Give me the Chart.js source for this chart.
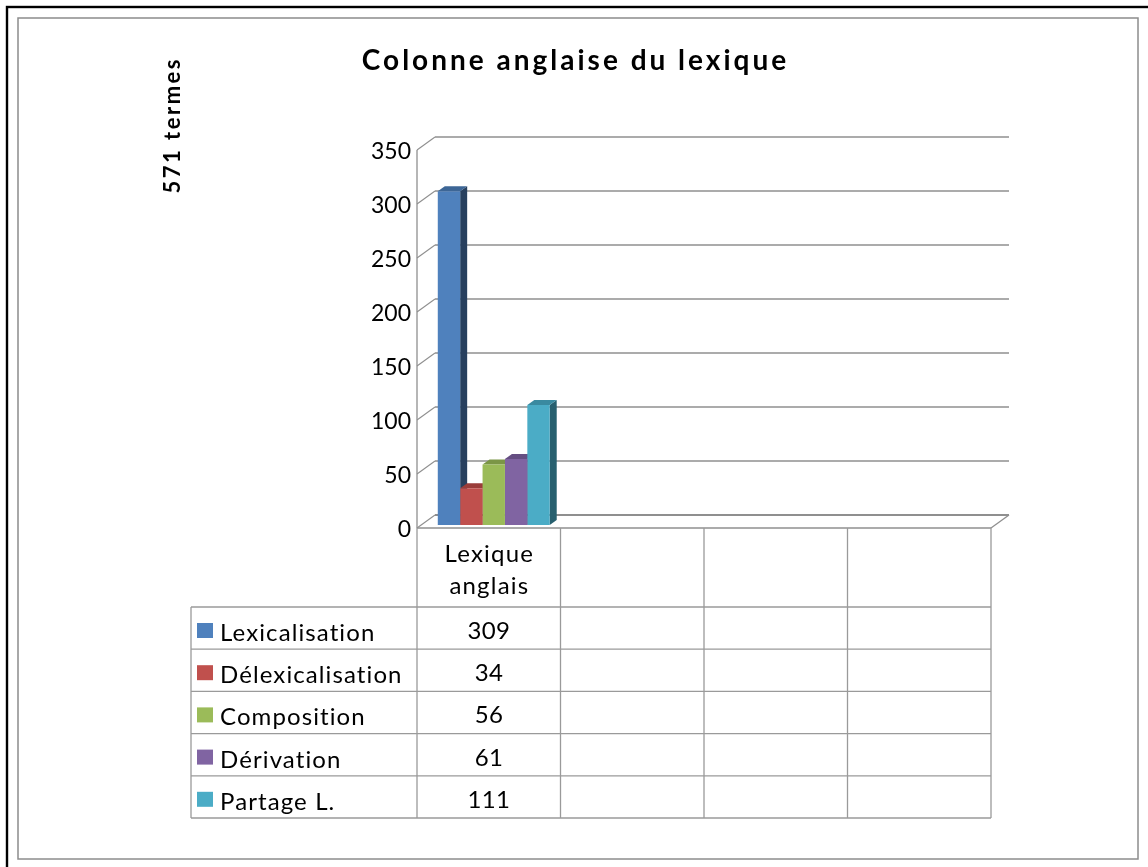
<!DOCTYPE html>
<html><head><meta charset="utf-8">
<script src="https://cdn.jsdelivr.net/npm/chart.js@4"></script>
<style>html,body{margin:0;padding:0;background:#fff}canvas{display:block}</style>
</head><body>
<canvas id="c" width="1148" height="867"></canvas>
<script>
// ---- data ----
const categories = ['Lexique anglais', '', '', ''];
const seriesNames = ['Lexicalisation', 'Délexicalisation', 'Composition', 'Dérivation', 'Partage L.'];
const lexicalisation = [309, null, null, null];
const delexicalisation = [34, null, null, null];
const composition = [56, null, null, null];
const derivation = [61, null, null, null];
const partage = [111, null, null, null];
const yTicks = [0, 50, 100, 150, 200, 250, 300, 350];
const chartTitle = 'Colonne anglaise du lexique';
const sideTitle = '571 termes';

// ---- styles ----
const frontColors = ['#4F81BD', '#C0504D', '#9BBB59', '#8064A2', '#4BACC6'];
const topColors   = ['#3D6696', '#9A3D3A', '#7B9646', '#654E82', '#3A8AA0'];
const sideColors  = ['#28405E', '#6A2A28', '#556830', '#45365A', '#28606F'];
const FONT = 'Lato, "Open Sans", "DejaVu Sans", sans-serif';
const GRID = '#8f8f8f';

const series = [lexicalisation, delexicalisation, composition, derivation, partage];

// plane offsets relative to the bar plane
const BX = 13, BY = -10;   // back wall
const FX = -5, FY = 3;     // front edge
const DX = 7, DY = -5;     // bar depth

function line(ctx, x1, y1, x2, y2) { ctx.beginPath(); ctx.moveTo(x1, y1); ctx.lineTo(x2, y2); ctx.stroke(); }
function poly(ctx, pts, col) {
  ctx.beginPath(); ctx.moveTo(pts[0][0], pts[0][1]);
  for (let k = 1; k < pts.length; k++) ctx.lineTo(pts[k][0], pts[k][1]);
  ctx.closePath(); ctx.fillStyle = col; ctx.fill();
}
function spacedText(ctx, txt, x, y, spacing, align) {
  ctx.letterSpacing = spacing + 'px';
  const w = ctx.measureText(txt).width - spacing;
  let sx = x;
  if (align === 'center') sx = x - w / 2;
  else if (align === 'right') sx = x - w;
  ctx.textAlign = 'left';
  ctx.fillText(txt, sx, y);
  ctx.letterSpacing = '0px';
}

const threeD = {
  id: 'threeD',
  beforeDatasetsDraw(chart) {
    const { ctx, chartArea: a, scales: { x, y } } = chart;
    ctx.save();
    ctx.strokeStyle = GRID; ctx.lineWidth = 1.3;
    yTicks.forEach(v => {
      const py = y.getPixelForValue(v);
      ctx.lineWidth = v === 0 ? 2.2 : 1.3;
      line(ctx, a.left + BX, py + BY, a.right + BX, py + BY);
      ctx.lineWidth = 1.1;
      line(ctx, a.left + FX, py + FY, a.left + BX, py + BY);
    });
    ctx.lineWidth = 1.3;
    const yTop = y.getPixelForValue(yTicks[yTicks.length - 1]);
    const y0 = y.getPixelForValue(0);
    line(ctx, a.left + FX, yTop + FY, a.left + FX, y0 + FY);
    line(ctx, a.left + FX, y0 + FY, a.right + FX, y0 + FY);
    line(ctx, a.right + FX, y0 + FY, a.right + BX, y0 + BY);
    // bar top and side faces
    chart.data.datasets.forEach((ds, i) => {
      const meta = chart.getDatasetMeta(i);
      meta.data.forEach((bar, j) => {
        if (ds.data[j] == null) return;
        const p = bar.getProps(['x', 'y', 'base', 'width'], true);
        const l = p.x - p.width / 2, r = p.x + p.width / 2;
        poly(ctx, [[r, p.y], [r + DX, p.y + DY], [r + DX, p.base + DY], [r, p.base]], sideColors[i]);
        poly(ctx, [[l, p.y], [l + DX, p.y + DY], [r + DX, p.y + DY], [r, p.y]], topColors[i]);
      });
    });
    ctx.restore();
  },
  afterDraw(chart) {
    const { ctx, chartArea: a, scales: { x, y } } = chart;
    ctx.save();
    // frames
    ctx.strokeStyle = '#000'; ctx.lineWidth = 2.4;
    ctx.strokeRect(7, 7, 1160, 880);
    ctx.strokeStyle = '#8c8c8c'; ctx.lineWidth = 1.5;
    ctx.strokeRect(18, 18, 1120, 841);

    // title
    ctx.fillStyle = '#000';
    ctx.textBaseline = 'alphabetic';
    ctx.font = 'bold 28px ' + FONT;
    spacedText(ctx, chartTitle, 574, 70, 3, 'center');

    // side title
    ctx.save();
    ctx.translate(180, 126.5);
    ctx.rotate(-Math.PI / 2);
    ctx.font = 'bold 22px ' + FONT;
    spacedText(ctx, sideTitle, 0, 0, 2.5, 'center');
    ctx.restore();

    // data table
    const half = (x.getPixelForValue(1) - x.getPixelForValue(0)) / 2;
    const colL = i => x.getPixelForValue(i) - half + FX;
    const colC = i => x.getPixelForValue(i) + FX;
    const y0 = y.getPixelForValue(0) + FY;
    const headH = 79, rowH = 42.2, labelLeft = 191;
    const rowsTop = y0 + headH;
    const bottom = rowsTop + rowH * series.length;
    ctx.strokeStyle = '#9a9a9a'; ctx.lineWidth = 1.3;
    for (let i = 0; i <= categories.length; i++) {
      const cx = i < categories.length ? colL(i) : colL(categories.length - 1) + 2 * half;
      line(ctx, cx, y0, cx, bottom);
    }
    line(ctx, labelLeft, rowsTop, labelLeft, bottom);
    const right = colL(categories.length - 1) + 2 * half;
    for (let r = 0; r <= series.length; r++) {
      line(ctx, labelLeft, rowsTop + r * rowH, right, rowsTop + r * rowH);
    }
    // header text
    ctx.fillStyle = '#000';
    ctx.font = '24px ' + FONT;
    categories.forEach((c, i) => {
      if (!c) return;
      const parts = c.split(' ');
      parts.forEach((p, k) => spacedText(ctx, p, colC(i), y0 + 34 + k * 32, 1.2, 'center'));
    });
    // rows
    series.forEach((s, r) => {
      const top = rowsTop + r * rowH;
      ctx.fillStyle = frontColors[r];
      ctx.fillRect(197, top + 16, 16, 15);
      ctx.fillStyle = '#000';
      ctx.font = '24px ' + FONT;
      spacedText(ctx, seriesNames[r], 220, top + 34, 1.1, 'left');
      s.forEach((v, i) => {
        if (v == null) return;
        spacedText(ctx, String(v), colC(i), top + 32, 0.3, 'center');
      });
    });
    ctx.restore();
  }
};

new Chart(document.getElementById('c'), {
  type: 'bar',
  data: {
    labels: categories,
    datasets: series.map((s, i) => ({
      label: seriesNames[i], data: s, backgroundColor: frontColors[i],
      borderWidth: 0, categoryPercentage: 0.78, barPercentage: 1
    }))
  },
  options: {
    responsive: false, animation: false,
    layout: { padding: { left: 0, right: 152, top: 147, bottom: 342 } },
    plugins: { legend: { display: false }, tooltip: { enabled: false }, title: { display: false } },
    scales: {
      x: { display: false, offset: true },
      y: {
        min: 0, max: 350,
        afterFit(s) { s.width = 422; },
        grid: { display: false, drawTicks: false },
        border: { display: false },
        ticks: { stepSize: 50, padding: 11, labelOffset: 5, color: '#000', font: { family: FONT, size: 23 } }
      }
    }
  },
  plugins: [threeD]
});
</script>
</body></html>
